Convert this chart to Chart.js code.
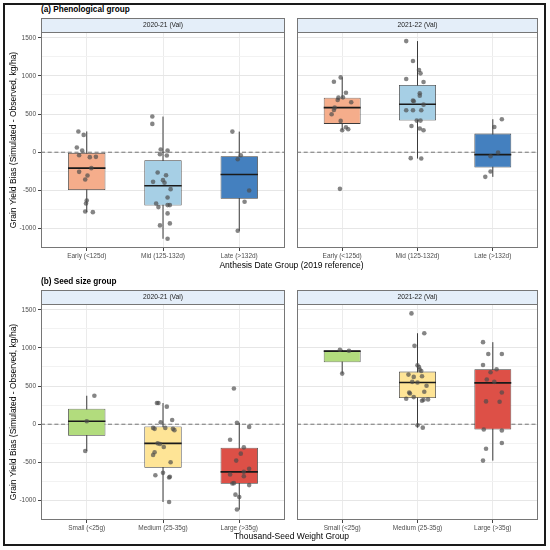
<!DOCTYPE html>
<html>
<head>
<meta charset="utf-8">
<script src="https://cdn.jsdelivr.net/npm/chart.js@4.4.1/dist/chart.umd.min.js"></script>
<style>
  html, body { margin: 0; padding: 0; background: #fff; }
  #fig { position: relative; width: 550px; height: 550px; font-family: "Liberation Sans", Arial, sans-serif; }
  #frame { position: absolute; left: 3px; top: 3px; width: 539px; height: 539px; border: 2px solid #1a1a1a; }
  canvas { position: absolute; }
  .tag { position: absolute; left: 41px; font-weight: bold; font-size: 8.2px; line-height: 10px; color: #000; }
  .xtitle { position: absolute; left: 41px; width: 501px; text-align: center; font-size: 8.5px; line-height: 11px; color: #000; }
</style>
</head>
<body>
<div id="fig">
  <div id="frame"></div>
  <canvas id="a20" width="289" height="246" style="left:0;top:18px"></canvas>
  <canvas id="a21" width="249" height="246" style="left:293px;top:18px"></canvas>
  <canvas id="b20" width="289" height="246" style="left:0;top:290px"></canvas>
  <canvas id="b21" width="249" height="246" style="left:293px;top:290px"></canvas>
  <div class="tag" style="top:5px">(a) Phenological group</div>
  <div class="xtitle" style="top:260px">Anthesis Date Group (2019 reference)</div>
  <div class="tag" style="top:277px">(b) Seed size group</div>
  <div class="xtitle" style="top:531px">Thousand-Seed Weight Group</div>
</div>
<script>
const seasons = ['2020-21 (Val)', '2021-22 (Val)'];
const phenoGroups = ['Early (<125d)', 'Mid (125-132d)', 'Late (>132d)'];
const seedGroups = ['Small (<25g)', 'Medium (25-35g)', 'Large (>35g)'];
const phenoColors = ['#F5AD8B', '#A6CFE5', '#4480BF'];
const seedColors = ['#B2DC7D', '#FEE496', '#DD5047'];
const yTitle = 'Grain Yield Bias (Simulated - Observed, kg/ha)';
const yTicks = [-1000, -750, -500, -250, 0, 250, 500, 750, 1000, 1250, 1500];
const xLim = [0.4, 3.6];
const yLim = [-1255, 1575];
const refLine = 0;

// (a) 2020-21 box stats per group
const a20Lo = [-785, -1134, -1029];
const a20Q1 = [-495, -698, -610];
const a20Med = [-209, -440, -292];
const a20Q3 = [-10, -105, -52];
const a20Hi = [272, 467, 270];
const a20Vals = [
  [272, 227, 61, 22, -39, -65, -61, -209, -257, -305, -358, -632, -671, -776, -785],
  [467, 371, 35, 22, -26, -44, -266, -301, -388, -366, -401, -484, -593, -671, -719, -693, -693, -802, -933, -959, -1134],
  [270, -39, -92, -501, -650, -1029]
];
const a20Jit = [
  [-0.11, -0.04, -0.13, -0.06, -0.10, 0.04, 0.12, 0.06, -0.10, 0.01, -0.02, 0, -0.01, -0.02, 0.08],
  [-0.14, -0.14, -0.03, 0.06, -0.04, 0.05, -0.07, 0.04, -0.13, 0, 0.02, 0.10, 0.06, -0.09, -0.06, 0.06, 0.09, 0.06, 0.09, -0.04, 0.06],
  [-0.09, 0.02, -0.02, 0.13, 0.07, -0.02]
];

// (a) 2021-22
const a21Lo = [288, -83, -323];
const a21Q1 = [371, 414, -201];
const a21Med = [584, 628, -31];
const a21Q3 = [715, 881, 244];
const a21Hi = [980, 1456, 432];
const a21Vals = [
  [924, 980, 780, 715, 719, 684, 654, 584, 554, 497, 410, 327, 301, 288, -480],
  [1456, 1195, 1077, 1033, 959, 920, 772, 741, 676, 667, 623, 549, 549, 549, 414, 414, 344, 310, 288, -78, -83],
  [432, 331, -4, -52, -253, -323]
];
const a21Jit = [
  [-0.11, -0.02, 0.05, -0.05, 0.01, -0.06, 0.12, -0.10, -0.11, -0.14, -0.02, 0.05, 0.08, 0, -0.03],
  [-0.15, -0.06, 0.02, 0.04, -0.15, 0.08, 0.03, 0.03, -0.06, -0.05, 0.08, -0.15, -0.06, 0.05, -0.01, 0.04, -0.08, 0.03, 0.08, -0.09, 0.05],
  [0.12, 0.02, 0.07, -0.03, -0.03, -0.10]
];

// (b) 2020-21
const b20Lo = [-351, -1019, -1118];
const b20Q1 = [-152, -572, -780];
const b20Med = [39, -251, -624];
const b20Q3 = [204, -30, -308];
const b20Hi = [373, 277, 20];
const b20Vals = [
  [373, 39, -351],
  [277, 277, 230, 26, 56, -48, -61, -48, -61, -78, -251, -260, -299, -368, -403, -499, -637, -668, -698, -689, -1019],
  [468, 20, -35, -204, -303, -386, -477, -585, -624, -659, -681, -776, -772, -798, -923, -954, -1118]
];
const b20Jit = [
  [0.10, 0, -0.02],
  [-0.08, -0.06, 0.05, -0.03, 0.12, -0.13, -0.11, 0.03, 0.13, 0.15, -0.07, -0.04, 0.01, -0.11, -0.13, 0.10, 0, -0.10, 0.08, 0.09, 0.08],
  [-0.07, -0.03, 0.13, -0.12, 0.06, 0.02, -0.04, 0.13, 0.06, -0.12, 0.06, -0.09, -0.07, 0.13, -0.05, 0, -0.03]
];

// (b) 2021-22
const b21Lo = [663, -45, -477];
const b21Q1 = [812, 342, -69];
const b21Med = [958, 546, 542];
const b21Q3 = [966, 689, 720];
const b21Hi = [975, 1192, 1075];
const b21Vals = [
  [975, 962, 663],
  [1452, 1192, 1027, 772, 750, 715, 698, 650, 620, 628, 555, 546, 503, 416, 403, 425, 355, 334, 308, 321, 325, -13, -45],
  [1075, 919, 919, 776, 720, 681, 585, 555, 416, 299, 295, -69, -82, -247, -321, -477]
];
const b21Jit = [
  [-0.03, 0.09, 0],
  [-0.08, 0.09, -0.04, 0, 0.02, 0.03, 0.05, -0.12, -0.05, 0.06, -0.07, 0, 0.12, -0.11, -0.10, 0.09, -0.05, -0.15, 0.06, 0.08, 0.14, 0, 0.07],
  [-0.13, -0.06, 0.12, -0.13, 0.05, -0.03, -0.08, 0.02, 0.12, -0.09, 0.09, -0.12, 0.12, 0.12, -0.09, -0.13]
];

Chart.defaults.font.family = '"Liberation Sans", Arial, sans-serif';

const halfBox = 0.245;
const tickGray = '#4D4D4D';

// strip background + panel border, like ggplot facets
const facetFrame = {
  id: 'facetFrame',
  beforeDraw(chart) {
    const { ctx, chartArea: a } = chart;
    const h = chart.titleBlock ? chart.titleBlock.height : 14;
    ctx.save();
    ctx.fillStyle = '#E4EEF9';
    ctx.fillRect(a.left, a.top - h, a.width, h);
    ctx.restore();
  },
  afterDraw(chart) {
    const { ctx, chartArea: a } = chart;
    const h = chart.titleBlock ? chart.titleBlock.height : 14;
    ctx.save();
    ctx.strokeStyle = '#767676';
    ctx.lineWidth = 1;
    ctx.strokeRect(a.left + 0.5, a.top - h + 0.5, a.width - 1, h);
    ctx.strokeRect(a.left + 0.5, a.top + 0.5, a.width - 1, a.height - 1);
    ctx.restore();
  }
};

function boxPanel(id, p) {
  const centers = p.groups.map((g, i) => i + 1);
  const points = [];
  p.vals.forEach((vs, i) => vs.forEach((v, k) => points.push({ x: centers[i] + p.jit[i][k], y: v })));
  const medians = [];
  const whiskers = [];
  centers.forEach((c, i) => {
    medians.push({ x: c - halfBox, y: p.med[i] }, { x: c + halfBox, y: p.med[i] }, { x: c, y: null });
    whiskers.push({ x: c, y: p.lo[i] }, { x: c, y: p.hi[i] }, { x: c, y: null });
  });

  return new Chart(document.getElementById(id), {
    type: 'bar',
    data: {
      datasets: [
        {
          type: 'line',
          data: [{ x: xLim[0], y: refLine }, { x: xLim[1], y: refLine }],
          borderColor: '#555',
          borderWidth: 0.8,
          borderDash: [4, 2.7],
          pointRadius: 0,
          order: 5
        },
        {
          type: 'line',
          data: whiskers,
          borderColor: '#3a3a3a',
          borderWidth: 1,
          pointRadius: 0,
          order: 4
        },
        {
          type: 'bar',
          data: centers.map((c, i) => ({ x: c, y: [p.q1[i], p.q3[i]] })),
          backgroundColor: p.colors,
          borderColor: '#3a3a3a',
          borderWidth: 0.8,
          borderSkipped: false,
          categoryPercentage: 1,
          barPercentage: 0.49,
          order: 3
        },
        {
          type: 'line',
          data: medians,
          borderColor: '#1a1a1a',
          borderWidth: 1.6,
          pointRadius: 0,
          order: 2
        },
        {
          type: 'scatter',
          data: points,
          backgroundColor: 'rgba(75, 75, 75, 0.68)',
          borderWidth: 0,
          pointRadius: 2.3,
          order: 1
        }
      ]
    },
    options: {
      responsive: false,
      animation: false,
      events: [],
      layout: { padding: 0 },
      plugins: {
        legend: { display: false },
        tooltip: { enabled: false },
        title: {
          display: true,
          text: p.strip,
          fullSize: false,
          color: '#1a1a1a',
          font: { size: 6.7, weight: 'normal', lineHeight: '8px' },
          padding: { top: 3, bottom: 3 }
        }
      },
      scales: {
        x: {
          type: 'linear',
          min: xLim[0],
          max: xLim[1],
          offset: false,
          afterBuildTicks: s => { s.ticks = centers.map(v => ({ value: v })); },
          afterFit: s => { s.height = 16; },
          ticks: {
            callback: v => p.groups[v - 1],
            color: tickGray,
            font: { size: 6.5 },
            padding: 1,
            maxRotation: 0,
            autoSkip: false
          },
          grid: { color: '#EBEBEB', tickLength: 3, tickColor: '#444', offset: false },
          border: { display: false }
        },
        y: {
          type: 'linear',
          min: yLim[0],
          max: yLim[1],
          afterBuildTicks: s => { s.ticks = yTicks.map(v => ({ value: v })); },
          afterFit: s => { s.width = p.axis ? 41 : 0; },
          ticks: {
            display: p.axis,
            callback: v => (v % 500 === 0 ? String(v) : ''),
            color: tickGray,
            font: { size: 6.5 },
            padding: 2
          },
          grid: {
            color: c => (c.tick && c.tick.value % 500 === 0 ? '#E6E6E6' : '#F2F2F2'),
            tickLength: 3,
            drawTicks: p.axis,
            tickColor: c => (c.tick && c.tick.value % 500 === 0 ? '#444' : 'rgba(0,0,0,0)')
          },
          border: { display: false },
          title: {
            display: p.axis,
            text: yTitle,
            color: '#000',
            font: { size: 8.5, lineHeight: 1 },
            padding: { top: 9, bottom: 0 }
          }
        }
      }
    },
    plugins: [facetFrame]
  });
}

boxPanel('a20', { groups: phenoGroups, colors: phenoColors, strip: seasons[0], axis: true,
  lo: a20Lo, q1: a20Q1, med: a20Med, q3: a20Q3, hi: a20Hi, vals: a20Vals, jit: a20Jit });
boxPanel('a21', { groups: phenoGroups, colors: phenoColors, strip: seasons[1], axis: false,
  lo: a21Lo, q1: a21Q1, med: a21Med, q3: a21Q3, hi: a21Hi, vals: a21Vals, jit: a21Jit });
boxPanel('b20', { groups: seedGroups, colors: seedColors, strip: seasons[0], axis: true,
  lo: b20Lo, q1: b20Q1, med: b20Med, q3: b20Q3, hi: b20Hi, vals: b20Vals, jit: b20Jit });
boxPanel('b21', { groups: seedGroups, colors: seedColors, strip: seasons[1], axis: false,
  lo: b21Lo, q1: b21Q1, med: b21Med, q3: b21Q3, hi: b21Hi, vals: b21Vals, jit: b21Jit });
</script>
</body>
</html>
